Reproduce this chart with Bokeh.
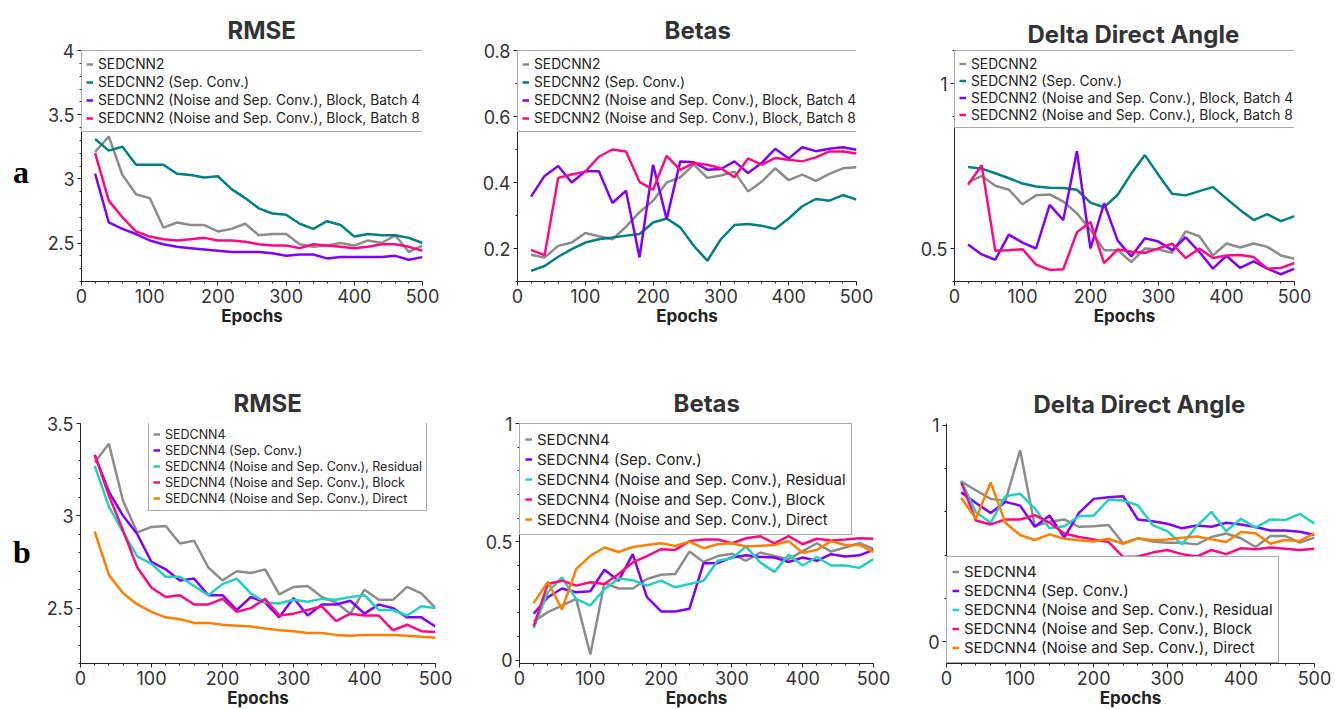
from bokeh.plotting import figure
from bokeh.layouts import row, column
from bokeh.models import Range1d, FixedTicker, CustomJSTickFormatter, Div
from bokeh.embed import file_html
from bokeh.resources import INLINE

epochs = [20, 40, 60, 80, 100, 120, 140, 160, 180, 200, 220, 240, 260, 280, 300,
          320, 340, 360, 380, 400, 420, 440, 460, 480, 500]

# ---- row a : SEDCNN2 ----
names_a = ["SEDCNN2", "SEDCNN2 (Sep. Conv.)",
           "SEDCNN2 (Noise and Sep. Conv.), Block, Batch 4",
           "SEDCNN2 (Noise and Sep. Conv.), Block, Batch 8"]

rmse_a_base = [3.21, 3.33, 3.03, 2.88, 2.85, 2.62, 2.66, 2.64, 2.64, 2.59, 2.61, 2.65, 2.56,
               2.57, 2.57, 2.49, 2.47, 2.48, 2.50, 2.48, 2.52, 2.50, 2.56, 2.43, 2.48]
rmse_a_sep = [3.31, 3.22, 3.25, 3.11, 3.11, 3.11, 3.04, 3.03, 3.01, 3.02, 2.92, 2.85, 2.77,
              2.73, 2.72, 2.65, 2.61, 2.67, 2.64, 2.55, 2.57, 2.56, 2.56, 2.54, 2.50]
rmse_a_b4 = [3.04, 2.66, 2.61, 2.57, 2.52, 2.49, 2.47, 2.46, 2.45, 2.44, 2.43, 2.43, 2.43,
             2.42, 2.40, 2.41, 2.41, 2.38, 2.39, 2.39, 2.39, 2.39, 2.40, 2.37, 2.39]
rmse_a_b8 = [3.20, 2.83, 2.70, 2.59, 2.55, 2.53, 2.52, 2.53, 2.54, 2.52, 2.52, 2.51, 2.49,
             2.48, 2.48, 2.46, 2.49, 2.48, 2.47, 2.46, 2.47, 2.49, 2.49, 2.47, 2.44]

betas_a_base = [0.181, 0.173, 0.208, 0.218, 0.247, 0.237, 0.228, 0.266, 0.310, 0.345, 0.400,
                0.416, 0.454, 0.414, 0.421, 0.433, 0.373, 0.402, 0.443, 0.407, 0.424, 0.405,
                0.426, 0.443, 0.446]
betas_a_sep = [0.132, 0.147, 0.175, 0.198, 0.218, 0.228, 0.233, 0.239, 0.244, 0.279, 0.291,
               0.264, 0.208, 0.163, 0.228, 0.271, 0.274, 0.269, 0.259, 0.291, 0.328, 0.350,
               0.345, 0.362, 0.348]
betas_a_b4 = [0.357, 0.420, 0.450, 0.400, 0.434, 0.434, 0.338, 0.375, 0.173, 0.454, 0.289,
              0.464, 0.461, 0.439, 0.441, 0.464, 0.429, 0.459, 0.502, 0.473, 0.507, 0.495,
              0.502, 0.507, 0.499]
betas_a_b8 = [0.196, 0.180, 0.414, 0.424, 0.433, 0.478, 0.500, 0.494, 0.402, 0.378, 0.481,
              0.438, 0.459, 0.454, 0.443, 0.416, 0.473, 0.454, 0.474, 0.469, 0.464, 0.476,
              0.494, 0.494, 0.488]

dda_a_base = [0.700, 0.720, 0.690, 0.678, 0.634, 0.661, 0.664, 0.642, 0.607, 0.556, 0.495,
              0.495, 0.459, 0.500, 0.497, 0.487, 0.552, 0.537, 0.479, 0.515, 0.503, 0.515,
              0.505, 0.479, 0.469]
dda_a_sep = [0.747, 0.742, 0.728, 0.713, 0.697, 0.688, 0.684, 0.683, 0.678, 0.639, 0.625,
             0.663, 0.727, 0.783, 0.723, 0.666, 0.661, 0.674, 0.686, 0.651, 0.617, 0.586,
             0.604, 0.583, 0.598]
dda_a_b4 = [0.512, 0.482, 0.466, 0.542, 0.518, 0.500, 0.632, 0.586, 0.795, 0.500, 0.637,
            0.524, 0.476, 0.531, 0.521, 0.495, 0.534, 0.490, 0.439, 0.478, 0.441, 0.461,
            0.439, 0.422, 0.439]
dda_a_b8 = [0.693, 0.752, 0.493, 0.495, 0.498, 0.451, 0.435, 0.437, 0.549, 0.580, 0.456,
            0.497, 0.490, 0.487, 0.500, 0.515, 0.471, 0.500, 0.471, 0.479, 0.480, 0.474,
            0.439, 0.441, 0.456]

# ---- row b : SEDCNN4 ----
names_b = ["SEDCNN4", "SEDCNN4 (Sep. Conv.)",
           "SEDCNN4 (Noise and Sep. Conv.), Residual",
           "SEDCNN4 (Noise and Sep. Conv.), Block",
           "SEDCNN4 (Noise and Sep. Conv.), Direct"]

rmse_b_base = [3.29, 3.39, 3.08, 2.91, 2.94, 2.945, 2.85, 2.865, 2.72, 2.65, 2.70, 2.69, 2.71,
               2.575, 2.615, 2.62, 2.56, 2.53, 2.47, 2.60, 2.545, 2.545, 2.615, 2.58, 2.50]
rmse_b_sep = [3.33, 3.13, 3.00, 2.90, 2.75, 2.71, 2.65, 2.66, 2.57, 2.57, 2.49, 2.56, 2.53,
              2.45, 2.555, 2.46, 2.52, 2.52, 2.54, 2.47, 2.52, 2.50, 2.45, 2.45, 2.40]
rmse_b_res = [3.27, 3.05, 2.91, 2.78, 2.74, 2.67, 2.67, 2.62, 2.57, 2.63, 2.66, 2.58, 2.53,
              2.525, 2.545, 2.535, 2.55, 2.545, 2.56, 2.57, 2.49, 2.49, 2.46, 2.51, 2.50]
rmse_b_blk = [3.33, 3.11, 2.92, 2.72, 2.61, 2.56, 2.57, 2.52, 2.52, 2.55, 2.48, 2.50, 2.55,
              2.46, 2.47, 2.49, 2.51, 2.43, 2.47, 2.46, 2.46, 2.38, 2.41, 2.375, 2.37]
rmse_b_dir = [2.915, 2.68, 2.58, 2.52, 2.48, 2.45, 2.44, 2.42, 2.42, 2.41, 2.405, 2.40, 2.39,
              2.38, 2.375, 2.365, 2.365, 2.355, 2.35, 2.355, 2.355, 2.355, 2.35, 2.345, 2.34]

betas_b_base = [0.164, 0.203, 0.231, 0.259, 0.024, 0.326, 0.303, 0.303, 0.343, 0.361, 0.364,
                0.459, 0.415, 0.440, 0.450, 0.420, 0.455, 0.440, 0.427, 0.461, 0.494, 0.459,
                0.476, 0.494, 0.471]
betas_b_sep = [0.196, 0.266, 0.303, 0.287, 0.291, 0.382, 0.336, 0.448, 0.266, 0.206, 0.206,
               0.217, 0.410, 0.410, 0.434, 0.443, 0.436, 0.434, 0.415, 0.434, 0.420, 0.448,
               0.438, 0.443, 0.466]
betas_b_res = [0.136, 0.287, 0.350, 0.259, 0.231, 0.300, 0.345, 0.338, 0.315, 0.336, 0.308,
               0.322, 0.336, 0.420, 0.431, 0.480, 0.413, 0.373, 0.445, 0.400, 0.436, 0.400,
               0.400, 0.390, 0.427]
betas_b_blk = [0.144, 0.322, 0.336, 0.315, 0.329, 0.322, 0.364, 0.413, 0.440, 0.469, 0.466,
               0.503, 0.510, 0.510, 0.494, 0.515, 0.524, 0.494, 0.524, 0.490, 0.513, 0.506,
               0.510, 0.515, 0.513]
betas_b_dir = [0.241, 0.331, 0.214, 0.385, 0.441, 0.476, 0.457, 0.478, 0.487, 0.494, 0.483,
               0.501, 0.473, 0.490, 0.494, 0.480, 0.483, 0.487, 0.503, 0.454, 0.466, 0.503,
               0.487, 0.487, 0.457]

dda_b_base = [0.740, 0.700, 0.660, 0.650, 0.885, 0.534, 0.554, 0.565, 0.531, 0.534, 0.539,
              0.455, 0.478, 0.463, 0.458, 0.458, 0.450, 0.484, 0.500, 0.478, 0.438, 0.489,
              0.489, 0.458, 0.481]
dda_b_sep = [0.690, 0.641, 0.595, 0.646, 0.629, 0.531, 0.583, 0.481, 0.595, 0.660, 0.667,
             0.672, 0.565, 0.557, 0.545, 0.524, 0.537, 0.531, 0.550, 0.542, 0.530, 0.514,
             0.514, 0.508, 0.493]
dda_b_res = [0.744, 0.598, 0.550, 0.672, 0.684, 0.615, 0.524, 0.534, 0.580, 0.583, 0.656,
             0.653, 0.630, 0.539, 0.511, 0.450, 0.534, 0.600, 0.511, 0.568, 0.527, 0.565,
             0.562, 0.591, 0.545]
dda_b_blk = [0.736, 0.560, 0.542, 0.565, 0.565, 0.585, 0.550, 0.500, 0.484, 0.473, 0.461,
             0.392, 0.394, 0.412, 0.424, 0.405, 0.394, 0.424, 0.405, 0.432, 0.427, 0.435,
             0.430, 0.424, 0.430]
dda_b_dir = [0.664, 0.568, 0.736, 0.550, 0.493, 0.470, 0.496, 0.476, 0.469, 0.463, 0.476,
             0.453, 0.478, 0.469, 0.473, 0.481, 0.486, 0.473, 0.461, 0.507, 0.501, 0.453,
             0.470, 0.466, 0.501]

colors_a = ["#8c8c8c", "#008080", "#8000ff", "#ff0a80"]
colors_b = ["#8c8c8c", "#8000ff", "#22d0c0", "#ff0a80", "#ff8000"]

x_major = [0, 100, 200, 300, 400, 500]
x_minor = [0, 20, 40, 60, 80, 100, 120, 140, 160, 180, 200, 220, 240, 260, 280, 300,
           320, 340, 360, 380, 400, 420, 440, 460, 480, 500]

FONT = "Inter"
fmt = CustomJSTickFormatter(code="return String(Number(tick.toFixed(4)));")


def make_fig(title, yr, ymajor, yminor, fw, fh, left, right, top, bottom, toff, tstand):
    p = figure(width=left + fw + right, height=top + fh + bottom, min_border_left=left,
               min_border_right=right, min_border_top=top, min_border_bottom=bottom,
               x_range=Range1d(0, 500), y_range=Range1d(*yr),
               output_backend="svg", toolbar_location=None, title=title)
    p.outline_line_color = None
    p.xgrid.grid_line_color = None
    p.ygrid.grid_line_color = None
    p.title.text_font = FONT
    p.title.text_font_size = "24px"
    p.title.text_font_style = "bold"
    p.title.text_color = "#333333"
    p.title.align = "left"
    p.title.offset = toff
    p.title.standoff = tstand
    p.xaxis.ticker = FixedTicker(ticks=x_major, minor_ticks=x_minor)
    p.yaxis.ticker = FixedTicker(ticks=ymajor, minor_ticks=yminor)
    p.yaxis.formatter = fmt
    for ax in (p.xaxis[0], p.yaxis[0]):
        ax.major_label_text_font = FONT
        ax.major_label_text_font_size = "18px"
        ax.major_label_text_color = "#333333"
        ax.axis_line_color = "#222222"
        ax.major_tick_line_color = "#222222"
        ax.minor_tick_line_color = "#222222"
        ax.major_tick_in = 0
        ax.major_tick_out = 4
        ax.minor_tick_in = 0
        ax.minor_tick_out = 2
        ax.major_label_standoff = 3
    p.xaxis.axis_label = "Epochs"
    p.xaxis.axis_label_text_font = FONT
    p.xaxis.axis_label_text_font_size = "17px"
    p.xaxis.axis_label_text_font_style = "bold"
    p.xaxis.axis_label_text_color = "#222222"
    p.xaxis.axis_label_standoff = 0
    return p


def add_lines(p, series, names, colors, loc, fsize, lh, pad):
    for ys, nm, c in zip(series, names, colors):
        p.line(epochs, ys, line_color=c, line_width=2.5, legend_label=nm)
    lg = p.legend[0]
    lg.location = loc
    lg.margin = 0
    lg.padding = pad
    lg.spacing = 0
    lg.label_text_font = FONT
    lg.label_text_font_size = fsize
    lg.label_text_color = "#222222"
    lg.label_height = lh
    lg.glyph_height = lh
    lg.glyph_width = 7
    lg.label_standoff = 5
    lg.border_line_color = "#555555"
    lg.border_line_width = 1.5
    lg.background_fill_alpha = 1.0


def minor(lo, hi, step):
    out = []
    v = lo
    while v <= hi + 1e-9:
        out.append(round(v, 4))
        v += step
    return out


def panel_letter(letter, height, top):
    html = ('<div style="margin:%dpx 0 0 13px;font-family:\'Liberation Serif\';'
            'font-weight:bold;font-size:32px;line-height:32px;color:#000000">%s</div>'
            % (top, letter))
    return Div(text=html, width=30, height=height, margin=0)


# Row a
p1 = make_fig("RMSE", (2.2, 4.0), [2.5, 3, 3.5, 4], minor(2.2, 4.0, 0.1),
              341, 232, 51, 23, 49, 69, 146, 12)
add_lines(p1, [rmse_a_base, rmse_a_sep, rmse_a_b4, rmse_a_b8], names_a, colors_a,
          "top_left", "13.8px", 18, 4)
p2 = make_fig("Betas", (0.1, 0.8), [0.2, 0.4, 0.6, 0.8], minor(0.1, 0.8, 0.1),
              339, 233, 72, 34, 50, 67, 147, 12)
add_lines(p2, [betas_a_base, betas_a_sep, betas_a_b4, betas_a_b8], names_a, colors_a,
          "top_left", "13.8px", 18, 4)
p3 = make_fig("Delta Direct Angle", (0.4, 1.1), [0.5, 1], [0.4, 0.9, 1.1],
              340, 240, 64, 41, 43, 67, 73, 4)
add_lines(p3, [dda_a_base, dda_a_sep, dda_a_b4, dda_a_b8], names_a, colors_a,
          "top_left", "13.8px", 17, 4)

# Row b
p4 = make_fig("RMSE", (2.2, 3.5), [2.5, 3, 3.5], minor(2.2, 3.5, 0.1),
              355, 240, 50, 27, 73, 49, 153, 12)
add_lines(p4, [rmse_b_base, rmse_b_sep, rmse_b_res, rmse_b_blk, rmse_b_dir], names_b,
          colors_b, (68, 152), "12.5px", 16, 4)
p5 = make_fig("Betas", (-0.014, 1.0), [0, 0.5, 1], minor(0, 1.0, 0.1),
              354, 240, 57, 17, 73, 49, 154, 12)
add_lines(p5, [betas_b_base, betas_b_sep, betas_b_res, betas_b_blk, betas_b_dir], names_b,
          colors_b, "top_left", "15px", 20, 5)
p6 = make_fig("Delta Direct Angle", (-0.1, 1.008), [0, 1], [0.2, 0.4, 0.6, 0.8],
              368, 240, 56, 21, 73, 49, 87, 10)
add_lines(p6, [dda_b_base, dda_b_sep, dda_b_res, dda_b_blk, dda_b_dir], names_b,
          colors_b, "bottom_left", "15px", 19, 5)

layout = column(row(panel_letter("a", 350, 156), p1, p2, p3),
                row(panel_letter("b", 362, 186), p4, p5, p6))
open("out.html", "w").write(file_html(layout, INLINE))
